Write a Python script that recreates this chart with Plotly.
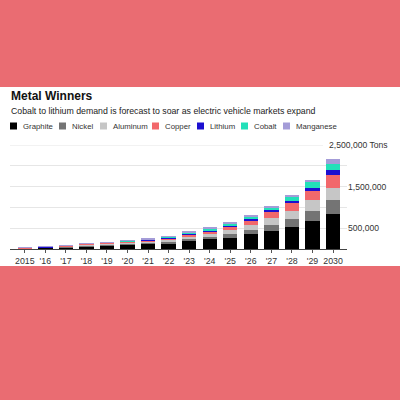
import plotly.graph_objects as go

years = ["2015", "2016", "2017", "2018", "2019", "2020", "2021", "2022",
         "2023", "2024", "2025", "2026", "2027", "2028", "2029", "2030"]
year_labels = ["2015", "'16", "'17", "'18", "'19", "'20", "'21", "'22",
               "'23", "'24", "'25", "'26", "'27", "'28", "'29", "2030"]

graphite  = [14000, 26000, 42000, 70000, 90000, 108000, 124000, 143000, 181000, 233000, 274000, 352000, 431000, 533000, 677000, 837000]
nickel    = [4000, 7000, 12000, 18000, 20000, 24000, 30000, 40000, 58000, 64000, 88000, 112000, 136000, 184000, 232000, 335000]
aluminum  = [4000, 7000, 12000, 18000, 18000, 22000, 28000, 40000, 50000, 71000, 86000, 112000, 167000, 191000, 263000, 304000]
copper    = [4000, 7000, 11000, 17000, 19000, 23000, 29000, 40000, 55000, 64000, 81000, 102000, 144000, 199000, 222000, 311000]
lithium   = [1500, 3000, 4000, 6000, 7000, 9000, 11000, 13000, 18000, 24000, 31000, 32000, 55000, 48000, 72000, 103000]
cobalt    = [1500, 3000, 6000, 7000, 8000, 11000, 13000, 20000, 28000, 32000, 48000, 64000, 55000, 96000, 144000, 160000]
manganese = [1000, 2000, 3000, 4000, 6000, 8000, 10000, 16000, 20000, 31000, 30000, 40000, 40000, 57000, 57000, 103000]

series_names = ["Graphite", "Nickel", "Aluminum", "Copper", "Lithium", "Cobalt", "Manganese"]
series_values = [graphite, nickel, aluminum, copper, lithium, cobalt, manganese]
series_colors = ["#000000", "#747474", "#c6c6c6", "#f2686b", "#1c0fd0", "#22e0b9", "#a49cd8"]

y_ticks = [500000, 1000000, 1500000, 2000000]
y_ticktext = ["500,000", "", "1,500,000", ""]
y_top = 2500000
y_top_label = "2,500,000 Tons"

title = "Metal Winners"
subtitle = "Cobalt to lithium demand is forecast to soar as electric vehicle markets expand"

FONT = "Liberation Sans, Arial, sans-serif"
PINK = "#ea6c72"

# plot area geometry (pixels)
L, R, T, B = 10, 53, 145, 151
W = 400 - L - R
H = 400 - T - B
Y0 = 400 - B


def px_x(x):
    return (x - L) / W


def px_y(y):
    return (Y0 - y) / H


fig = go.Figure()
for name, vals, col in zip(series_names, series_values, series_colors):
    fig.add_trace(go.Bar(x=years, y=vals, name=name, marker=dict(color=col, line=dict(width=0)),
                         showlegend=False))

shapes = [
    dict(type="rect", xref="paper", yref="paper", x0=px_x(-5), x1=px_x(405),
         y0=px_y(266), y1=px_y(87), fillcolor="white", line=dict(width=0), layer="below"),
    dict(type="line", xref="paper", yref="y", x0=0, x1=px_x(323), y0=y_top, y1=y_top,
         line=dict(color="#e6e6e6", width=1), layer="below"),
]

annotations = [
    dict(text="<b>" + title + "</b>", xref="paper", yref="paper", x=px_x(9), y=px_y(96),
         xanchor="left", yanchor="middle", showarrow=False,
         font=dict(family=FONT, size=12, color="#111111")),
    dict(text=subtitle, xref="paper", yref="paper", x=px_x(9), y=px_y(111),
         xanchor="left", yanchor="middle", showarrow=False,
         font=dict(family=FONT, size=8.75, color="#222222")),
    dict(text=y_top_label, xref="paper", yref="y", x=px_x(327), y=y_top,
         xanchor="left", yanchor="middle", showarrow=False,
         font=dict(family=FONT, size=8.6, color="#333333")),
]

# manual legend
legend_x = [10, 59, 100, 152, 197, 241, 283]
legend_y = 126
for lx, name, col in zip(legend_x, series_names, series_colors):
    shapes.append(dict(type="rect", xref="paper", yref="paper",
                       x0=px_x(lx), x1=px_x(lx + 7), y0=px_y(legend_y + 3.5), y1=px_y(legend_y - 3.5),
                       fillcolor=col, line=dict(width=0)))
    annotations.append(dict(text=name, xref="paper", yref="paper", x=px_x(lx + 11), y=px_y(legend_y),
                            xanchor="left", yanchor="middle", showarrow=False,
                            font=dict(family=FONT, size=7.8, color="#333333")))

fig.update_layout(
    width=400, height=400,
    margin=dict(l=L, r=R, t=T, b=B, pad=0),
    paper_bgcolor=PINK, plot_bgcolor="white",
    barmode="stack", bargap=0.3,
    showlegend=False,
    shapes=shapes, annotations=annotations,
    xaxis=dict(type="category", categoryorder="array", categoryarray=years,
               tickvals=years, ticktext=year_labels, range=[-0.72, 15.68],
               showgrid=False, showline=True, linecolor="#444444", linewidth=1,
               ticks="outside", ticklen=3, tickcolor="#555555", tickwidth=1,
               tickfont=dict(family=FONT, size=8.8, color="#333333"), fixedrange=True),
    yaxis=dict(side="right", range=[0, y_top], tickvals=y_ticks, ticktext=y_ticktext,
               showgrid=True, gridcolor="#e6e6e6", gridwidth=1, zeroline=False,
               ticks="", showline=False,
               tickfont=dict(family=FONT, size=8.6, color="#333333"), fixedrange=True),
)

fig.write_html("out.html", config={"displayModeBar": False},
               post_script="document.body.style.margin='0';document.body.style.padding='0';document.body.style.overflow='hidden';")
